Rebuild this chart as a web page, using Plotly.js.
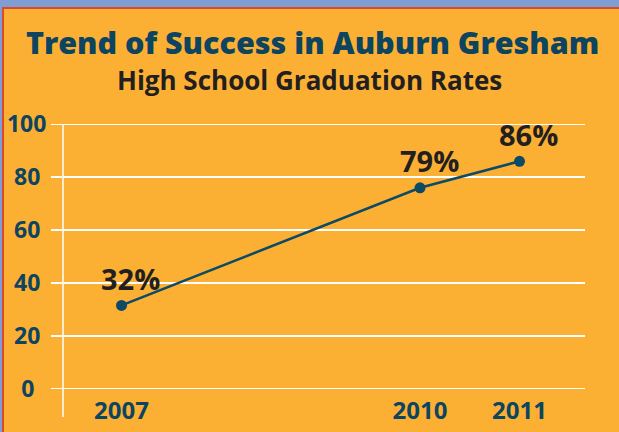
<!DOCTYPE html>
<html>
<head>
<meta charset="utf-8">
<script src="https://cdn.plot.ly/plotly-3.0.1.min.js"></script>
<style>
html,body{margin:0;padding:0;background:#7f9fd4;}
#chart{width:619px;height:432px;}
</style>
</head>
<body>
<div id="chart"></div>
<script>
// Data
var years = [2007, 2010, 2011];
var rates = [31.5, 76, 86];
var rateLabels = ["32%", "79%", "86%"];
var yTicks = [0, 20, 40, 60, 80, 100];
var yTickText = ["0\u00a0\u00a0", "20\u00a0", "40\u00a0", "60\u00a0", "80\u00a0", "100"];
var xTicks = [2007, 2010, 2011];
var xTickText = ["2007", "2010", "2011"];

var teal = "#0d4460";
var orange = "#FBB034";
var font = "'Open Sans', 'Noto Sans', sans-serif";

var trace = {
  x: years,
  y: rates,
  type: "scatter",
  mode: "lines+markers",
  line: {color: "#0d4a66", width: 2.5},
  marker: {color: "#0d4a66", size: 11},
  hoverinfo: "skip"
};

var annotations = years.map(function (yr, i) {
  return {
    x: yr, y: rates[i], xref: "x", yref: "y",
    text: rateLabels[i], showarrow: false,
    xshift: 9, yshift: 27,
    font: {family: font, size: 29, color: "#231f20", weight: 700}
  };
});
annotations.push({
  xref: "paper", yref: "paper", x: 0.473, y: 1.161,
  xanchor: "center", yanchor: "middle",
  text: "High School Graduation Rates", showarrow: false,
  font: {family: font, size: 26, color: "#231f20", weight: 700}
});

var layout = {
  width: 619, height: 432,
  margin: {l: 63, r: 34, t: 123, b: 42},
  paper_bgcolor: "#7f9fd4",
  plot_bgcolor: "rgba(0,0,0,0)",
  showlegend: false,
  title: {
    text: "Trend of Success in Auburn Gresham",
    x: 0.505, xref: "container", xanchor: "center",
    y: 0.90, yref: "container", yanchor: "middle",
    font: {family: font, size: 30.5, color: teal, weight: 800}
  },
  xaxis: {
    range: [2006.412, 2011.658],
    tickvals: xTicks,
    ticktext: xTickText,
    showgrid: false, zeroline: false, showline: false,
    ticks: "outside", ticklen: 1, tickcolor: "rgba(0,0,0,0)",
    ticklabelstandoff: -2,
    tickfont: {family: font, size: 24, color: teal, weight: 700}
  },
  yaxis: {
    range: [-0.5, 100.5],
    tickvals: yTicks,
    ticktext: yTickText,
    showgrid: true, gridcolor: "#ffffff", gridwidth: 1.5,
    zeroline: false, showline: false,
    ticks: "outside", ticklen: 11, tickcolor: "#ffffff", tickwidth: 1.5,
    tickfont: {family: font, size: 23, color: teal, weight: 700}
  },
  shapes: [
    {type: "rect", xref: "paper", yref: "paper", layer: "below",
     x0: (3 - 63) / 522, x1: (625 - 63) / 522,
     y0: (390 - 440) / 267, y1: (390 - 8) / 267,
     fillcolor: orange, line: {color: "#dd4a2a", width: 2}},
    {type: "line", xref: "paper", yref: "paper", layer: "above",
     x0: 0, x1: 0, y0: (390 - 417) / 267, y1: (390 - 124) / 267,
     line: {color: "#ffffff", width: 1.5}}
  ],
  annotations: annotations
};

Plotly.newPlot("chart", [trace], layout, {displayModeBar: false, staticPlot: true});
</script>
</body>
</html>
